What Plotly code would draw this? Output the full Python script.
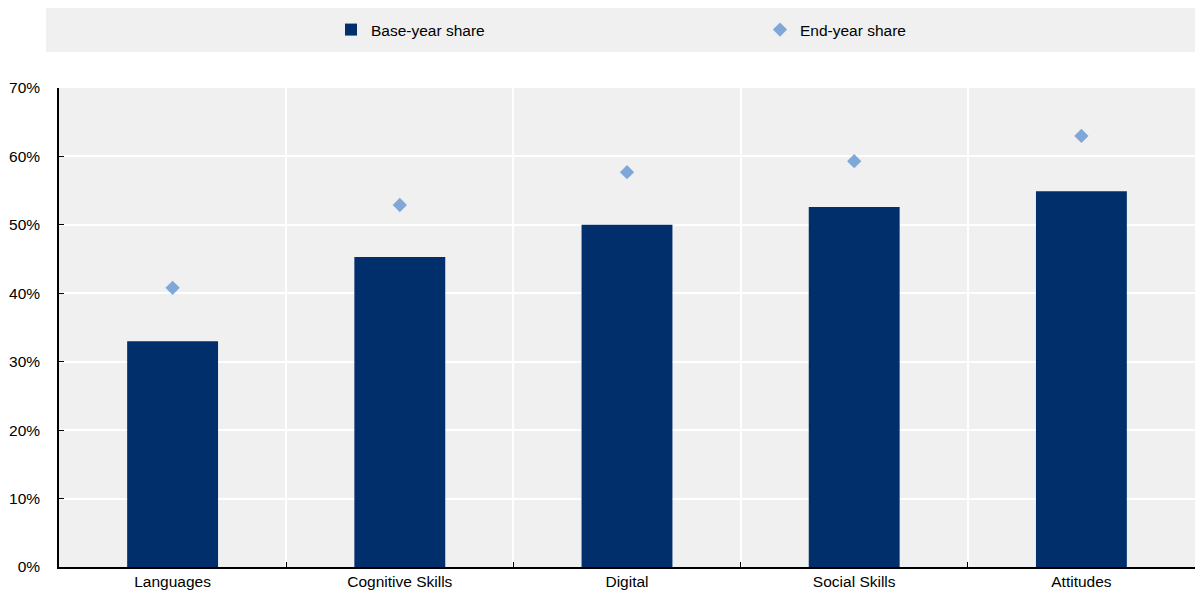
import plotly.graph_objects as go

categories = ["Languages", "Cognitive Skills", "Digital", "Social Skills", "Attitudes"]
base_share = [33.0, 45.3, 50.0, 52.6, 54.9]
end_share = [40.8, 52.9, 57.7, 59.3, 63.0]
y_ticks = [0, 10, 20, 30, 40, 50, 60, 70]
y_labels = [f"{v}%" for v in y_ticks]

W, H = 1195, 592
ml, mr, mt, mb = 59, 0, 88, 25
pw, ph = W - ml - mr, H - mt - mb

font = "Liberation Sans, Arial, sans-serif"

fig = go.Figure()
fig.add_trace(go.Bar(x=categories, y=base_share, name="Base-year share",
                     marker=dict(color="#002F6C", line=dict(width=0)), width=0.4))
fig.add_trace(go.Scatter(x=categories, y=end_share, name="End-year share", mode="markers",
                         marker=dict(symbol="diamond", size=11, color="#7FA8D9")))

fig.add_shape(type="rect", xref="paper", yref="paper",
              x0=(46 - ml) / pw, x1=1.0,
              y0=1 + (mt - 52) / ph, y1=1 + (mt - 8) / ph,
              fillcolor="#F0F0F0", line=dict(width=0), layer="below")

fig.update_layout(
    width=W, height=H,
    margin=dict(l=ml, r=mr, t=mt, b=mb, autoexpand=False),
    paper_bgcolor="white", plot_bgcolor="#F0F0F0",
    font=dict(family=font, size=15.5, color="#000"),
    showlegend=True,
    legend=dict(orientation="h", x=(331 - ml) / pw, xanchor="left",
                y=1 + (mt - 30) / ph, yanchor="middle",
                bgcolor="rgba(0,0,0,0)", entrywidth=384, entrywidthmode="pixels",
                font=dict(size=15.5), itemclick=False),
    bargap=0.6,
)
fig.update_xaxes(showline=True, linecolor="#000", linewidth=1.5,
                 showgrid=True, gridcolor="white", gridwidth=2,
                 tickson="boundaries", ticks="inside", ticklen=5, tickcolor="#000",
                 range=[-0.5, 4.5], fixedrange=True)
fig.update_yaxes(range=[0, 70], tickvals=y_ticks, ticktext=y_labels,
                 showline=True, linecolor="#000", linewidth=1.5,
                 showgrid=True, gridcolor="white", gridwidth=2,
                 ticks="inside", ticklen=5, tickcolor="#000", zeroline=False,
                 ticklabelstandoff=14, fixedrange=True)

fig.write_html("out.html")
